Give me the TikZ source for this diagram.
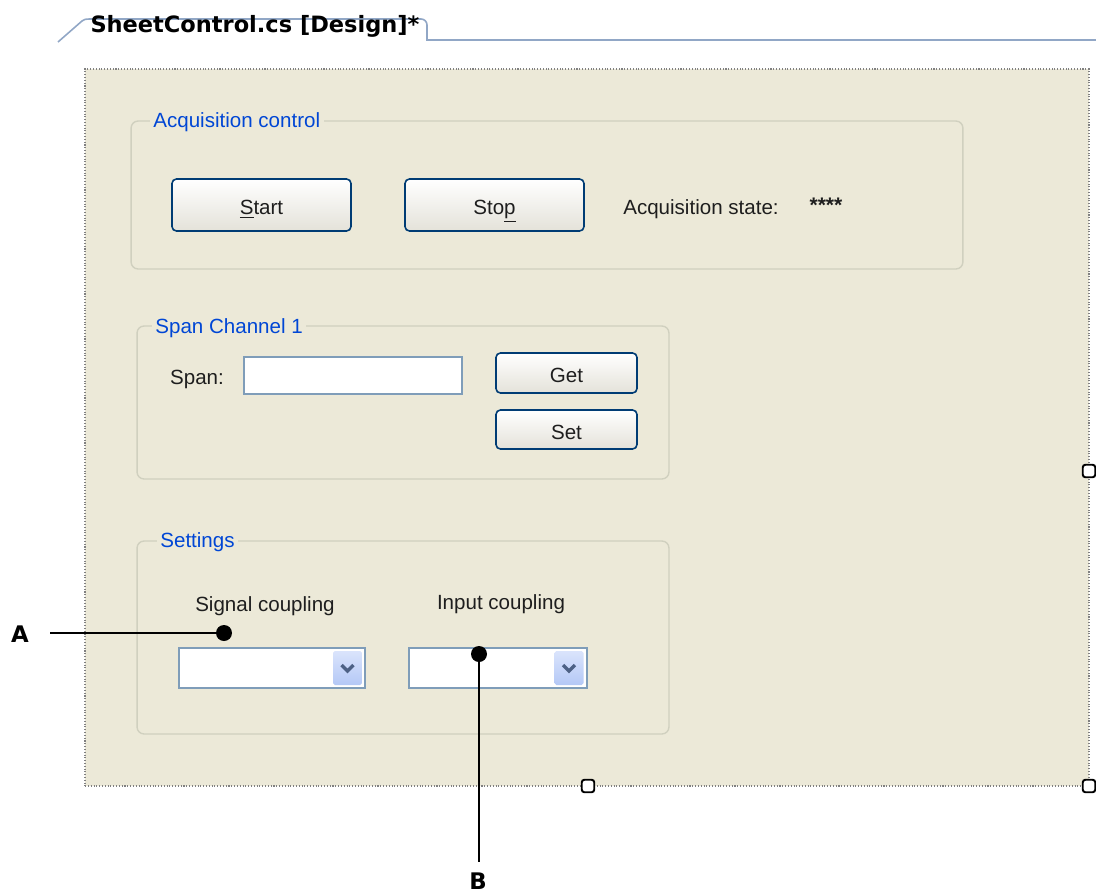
\documentclass[tikz,border=0pt]{standalone}
\usepackage{fontspec}
\setmainfont{Liberation Sans}
\newfontfamily\tabfont{DejaVu Sans}
\newcommand\uifont{\fontsize{11.7}{14}\selectfont}

\definecolor{formbg}{RGB}{236,233,216}
\definecolor{grpline}{RGB}{208,208,191}
\definecolor{titleblue}{RGB}{0,70,213}
\definecolor{btnblue}{RGB}{0,60,116}
\definecolor{btnbot}{RGB}{228,226,217}
\definecolor{boxline}{RGB}{127,157,185}
\definecolor{tabline}{RGB}{145,167,198}
\definecolor{ddtop}{RGB}{218,228,252}
\definecolor{ddbot}{RGB}{180,200,246}
\definecolor{chev}{RGB}{77,97,133}
\definecolor{uitext}{RGB}{30,30,30}

\begin{document}
\begin{tikzpicture}[x=0.02cm,y=-0.02cm]
      \tikzstyle{grp}=[draw=grpline,line width=0.8pt,rounded corners=4pt];
      \tikzstyle{title}=[fill=formbg,text=titleblue,inner sep=2pt,anchor=west,font=\uifont];
      \tikzstyle{btn}=[draw=btnblue,line width=0.9pt,rounded corners=2.5pt,top color=white,bottom color=btnbot,text=uitext,font=\uifont,text height=11pt,text depth=0pt];
      \tikzstyle{lbl}=[text=uitext,font=\uifont];
      \tikzstyle{tbox}=[draw=boxline,line width=0.8pt,fill=white];
      \tikzstyle{ddbtn}=[rounded corners=1pt,top color=ddtop,bottom color=ddbot];
      \tikzstyle{handle}=[draw=black,fill=white,line width=1.1pt,rounded corners=1.5pt,minimum size=0.25cm,inner sep=0pt];
      \tikzstyle{blob}=[circle,fill=black,inner sep=0pt,minimum size=0.32cm];
      \tikzstyle{callout}=[font=\tabfont\bfseries\fontsize{13}{15}\selectfont];

      \useasboundingbox[fill=white] (0,0) rectangle (1096,896);

      % designer tab
      \draw[tabline,line width=0.9pt] (58,42) -- (82,21) to[out=40,in=180] (89,19) -- (421,19)
        to[out=0,in=90] (427,25) -- (427,40) -- (1096,40);
      \node[font=\tabfont\bfseries\fontsize{12.8}{15}\selectfont] (tab) at (255,26) {SheetControl.cs [Design]*};

      % form surface
      \node[fill=formbg,draw=gray,line width=0.8pt,dash pattern=on 0.6pt off 1pt,
            minimum width=20.08cm,minimum height=14.34cm,inner sep=0pt] (form) at (587,427.5) {};
      \node[handle] (h1) at (1089,471) {};
      \node[handle] (h2) at (588,786) {};
      \node[handle] (h3) at (1089,786) {};

      % group boxes
      \node[grp,minimum width=16.64cm,minimum height=2.96cm] (acq) at (547,195) {};
      \node[grp,minimum width=10.64cm,minimum height=3.06cm] (span) at (403,402.5) {};
      \node[grp,minimum width=10.64cm,minimum height=3.86cm] (sett) at (403,637.5) {};
      \node[title] (acqT) at (149.5,122) {Acquisition control};
      \node[title] (spanT) at (151.5,328) {Span Channel 1};
      \node[title] (settT) at (156.5,542) {Settings};

      % acquisition control
      \node[btn,minimum width=3.58cm,minimum height=1.04cm] (start) at (261.5,205) {\underline{S}tart};
      \node[btn,minimum width=3.58cm,minimum height=1.04cm] (stop) at (494.5,205) {Sto\underline{p}};
      \node[lbl] (state) at (701,209) {Acquisition state:};
      \node[text=uitext,font=\bfseries\fontsize{12}{13}\selectfont] (stars) at (826,205) {****};

      % span channel
      \node[lbl] (spanL) at (197,379) {Span:};
      \node[tbox,minimum width=4.36cm,minimum height=0.74cm] (spanB) at (353,375.5) {};
      \node[btn,minimum width=2.82cm,minimum height=0.8cm] (get) at (566.5,373) {Get};
      \node[btn,minimum width=2.82cm,minimum height=0.78cm] (set) at (566.5,429.5) {Set};

      % settings
      \node[lbl] (sigL) at (265,606) {Signal coupling};
      \node[lbl] (inpL) at (501,604) {Input coupling};
      \node[tbox,minimum width=3.72cm,minimum height=0.8cm] (sig) at (272,668) {};
      \node[tbox,minimum width=3.56cm,minimum height=0.8cm] (inp) at (498,668) {};
      \node[ddbtn,minimum width=0.58cm,minimum height=0.68cm] (sigDD) at (347.5,668) {};
      \node[ddbtn,minimum width=0.58cm,minimum height=0.68cm] (inpDD) at (569,668) {};
      \draw[chev,line width=2pt] ([shift={(-6,-3)}]sigDD.center) -- ([shift={(0,3)}]sigDD.center) -- ([shift={(6,-3)}]sigDD.center);
      \draw[chev,line width=2pt] ([shift={(-6,-3)}]inpDD.center) -- ([shift={(0,3)}]inpDD.center) -- ([shift={(6,-3)}]inpDD.center);

      % callouts
      \node[blob] (dotA) at (224,633) {};
      \node[blob] (dotB) at (479,654) {};
      \node[callout] (labA) at (20,634) {A};
      \node[callout] (labB) at (478,881) {B};
      \coordinate (endA) at (50,633);
      \coordinate (endB) at (479,862);
      \draw[line width=1.5pt] (endA) -- (dotA);
      \draw[line width=1.5pt] (dotB) -- (endB);

\end{tikzpicture}
\end{document}
